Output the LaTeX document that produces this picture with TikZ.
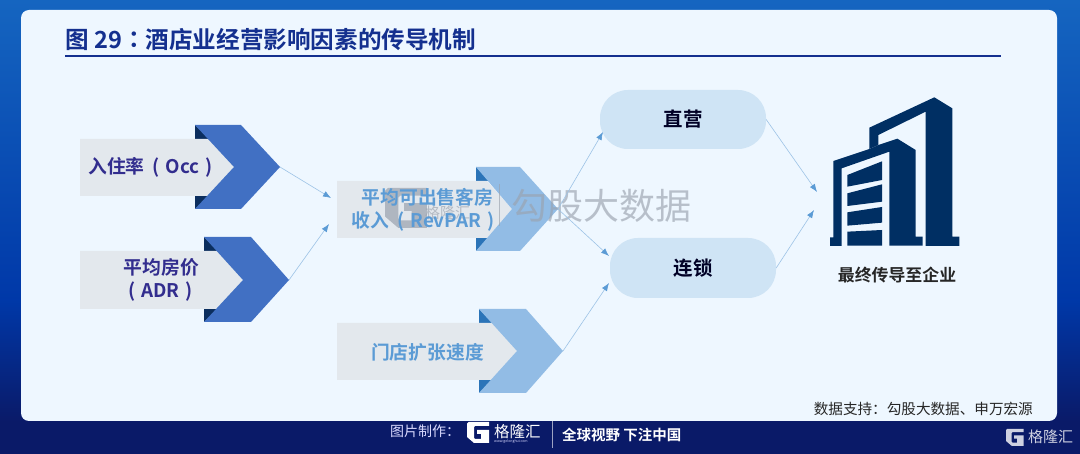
\documentclass[tikz,border=0pt]{standalone}
\usepackage{fontspec}
\setmainfont{Noto Sans CJK SC}
\newfontfamily\cjkb{Noto Sans CJK SC Bold}
\newfontfamily\cjkr{Noto Sans CJK SC}
\newfontfamily\cjktc{Noto Sans CJK TC Bold}
\usetikzlibrary{arrows.meta}
\definecolor{cardbg}{HTML}{EEF7FF}
\definecolor{navy}{HTML}{0A1A68}
\definecolor{bgtop}{HTML}{1565C0}
\definecolor{bgmid}{HTML}{0038A8}
\definecolor{titleblue}{HTML}{14308F}
\definecolor{darkchev}{HTML}{4170C3}
\definecolor{darktri}{HTML}{0B2E5E}
\definecolor{lightchev}{HTML}{92BCE5}
\definecolor{lighttri}{HTML}{2B74B8}
\definecolor{labelbg}{HTML}{E3E8ED}
\definecolor{purpletext}{HTML}{322D8E}
\definecolor{bluetext}{HTML}{5B9BD5}
\definecolor{building}{HTML}{002F63}
\definecolor{pillbg}{HTML}{CFE4F5}
\definecolor{wm}{HTML}{9AA2AE}
\newcommand{\lpar}{\hspace*{8pt}(\hspace*{6pt}}
\newcommand{\rpar}{\hspace*{6pt})\hspace*{2pt}}
\tikzset{
  x=1pt,y=-1pt,
  lbl/.style={inner sep=0pt,align=center,font=\cjkb\fontsize{#1}{23}\selectfont},
  lbl/.default=18,
  txtdark/.style={lbl=18.8,text=purpletext},
  txtlight/.style={lbl=18.8,text=bluetext},
  pill/.style={draw=none,fill=pillbg,rounded corners=28pt,inner sep=0pt,
    font=\cjkb\fontsize{19.5}{19.5}\selectfont,text=black!85!blue},
  link/.style={draw=#1,line width=0.6pt,-{Latex[length=8pt,width=6pt,color=bluetext]}},
  link/.default=bluetext!60,
  glogo/.pic={\fill[pic actions]
     (0,1.5)--(1.5,0)--(22,0)--(22,4)--(8,4)--(7,5)--(7,16)--(8,17)--(14,17)--(14,12)--(10,12)--(10,8)--(22,8)--(22,21)--(7,21)--(0,15)--cycle;},
  wmtxt/.style={inner sep=0pt,anchor=west,text=wm,text opacity=0.65}
}
\begin{document}
\begin{tikzpicture}
\useasboundingbox (0,0) rectangle (1080,454);
% background
\fill[top color=bgtop,bottom color=bgmid] (0,0) rectangle (1080,300);
\fill[top color=bgmid,bottom color=navy] (0,300) rectangle (1080,422);
\fill[navy] (0,421) rectangle (1080,454);
\fill[cardbg,rounded corners=8pt] (21,10) rectangle (1057,421);
% title
\node[anchor=west,lbl=23.6,text=titleblue] (title) at (65,40) {图 29{\cjktc ：}酒店业经营影响因素的传导机制};
\coordinate (ruleL) at (65,56.5);
\coordinate (ruleR) at (1001,56.5);
\draw[titleblue,line width=2pt] (ruleL) -- (ruleR);
% chevrons
\fill[darktri] (195,125) -- (210,139) -- (195,139) -- cycle (195,196) -- (210,196) -- (195,209) -- cycle;
\fill[labelbg] (80,139) -- (209,139) -- (234,167) -- (209,196) -- (80,196) -- cycle;
\fill[darkchev] (195,125) -- (241,125) -- (280,167) -- (241,209) -- (195,209) -- (234,167) -- cycle;
\coordinate (occTip) at (280,167);
\fill[darktri] (204,237) -- (218,251) -- (204,251) -- cycle (204,309) -- (218,309) -- (204,322) -- cycle;
\fill[labelbg] (80,251) -- (218,251) -- (243,280) -- (218,309) -- (80,309) -- cycle;
\fill[darkchev] (204,237) -- (251,237) -- (289,280) -- (251,322) -- (204,322) -- (243,280) -- cycle;
\coordinate (adrTip) at (289,280);
\fill[lighttri] (476,167) -- (490,181) -- (476,181) -- cycle (476,238) -- (490,238) -- (476,251) -- cycle;
\fill[labelbg] (337,181) -- (487,181) -- (512,209) -- (487,238) -- (337,238) -- cycle;
\fill[lightchev] (476,167) -- (520,167) -- (558,209) -- (520,251) -- (476,251) -- (512,209) -- cycle;
\coordinate (revTip) at (558,209);
\fill[lighttri] (479,309) -- (493,323) -- (479,323) -- cycle (479,380) -- (493,380) -- (479,393) -- cycle;
\fill[labelbg] (337,323) -- (493,323) -- (517,351) -- (493,380) -- (337,380) -- cycle;
\fill[lightchev] (479,309) -- (526,309) -- (563,351) -- (526,393) -- (479,393) -- (517,351) -- cycle;
\coordinate (dianTip) at (563,351);
% watermark
\node[wmtxt,font=\cjkr\fontsize{36}{36}\selectfont] (wmtext) at (511,206) {勾股大数据};
\coordinate (wmA) at (499,184);
\coordinate (wmB) at (499,226);
\draw[wm,opacity=0.65,line width=0.6pt] (wmA) -- (wmB);
\pic[wm,scale=1.9,opacity=0.7] at (385,188) {glogo};
\node[wmtxt,font=\cjkr\fontsize{15}{15}\selectfont] (wmname) at (425,213) {格隆汇};
% labels
\node[txtdark] (occ) at (151.5,167) {入住率\lpar Occ\rpar};
\node[txtdark] (adr) at (161.5,279.5) {平均房价\\\hspace*{-8pt}\lpar ADR\rpar};
\node[txtlight] (rev) at (424,209.5) {\hspace*{7pt}平均可出售客房\\收入\lpar RevPAR\rpar};
\node[txtlight] (dian) at (427.5,352) {门店扩张速度};
% targets
\node[pill,minimum width=166pt,minimum height=59pt] (zy) at (683,119.5) {直营};
\node[pill,minimum width=166pt,minimum height=60pt] (ls) at (693,268) {连锁};
% arrows
\coordinate (m1) at (331,198);
\coordinate (m2) at (329,224);
\draw[link] (occTip) -- (m1);
\draw[link] (adrTip) -- (m2);
\coordinate (zyIn) at (603,132);
\coordinate (lsIn) at (609,256);
\coordinate (lsIn2) at (609,283);
\draw[link] (revTip) -- (zyIn);
\draw[link] (revTip) -- (lsIn);
\draw[link] (dianTip) -- (lsIn2);
\coordinate (b1) at (817,192);
\coordinate (b2) at (814,210);
\draw[link] (zy.east) -- (b1);
\draw[link] (ls.east) -- (b2);
% building
\begin{scope}[shift={(800,80)},scale=1/3]
\fill[building] (208,143) -- (403,52) -- (457,85) -- (457,470) -- (478,470) -- (478,498) -- (377,498) -- (377,95) -- (235,165) -- (235,195) -- (208,207) -- cycle;
\fill[building] (100,243) -- (208,207) -- (235,195) -- (292,176) -- (347,210) -- (347,470) -- (368,470) -- (368,497) -- (268,497) -- (268,215) -- (125,265) -- (125,498) -- (90,498) -- (90,472) -- (100,472) -- cycle;
\fill[building] (142,285) -- (246,244) -- (246,300) -- (142,320) -- cycle;
\fill[building] (142,340) -- (246,313) -- (246,365) -- (142,378) -- cycle;
\fill[building] (142,397) -- (246,381) -- (246,428) -- (142,437) -- cycle;
\fill[building] (142,455) -- (246,450) -- (246,497) -- (142,497) -- cycle;
\end{scope}
\node[lbl=16.9,text=black!85] (ent) at (897,275) {最终传导至企业};
% source
\node[anchor=east,inner sep=0pt,text=black!85,font=\cjkr\fontsize{14.6}{14.6}\selectfont] (src) at (1033,409) {数据支持：勾股大数据、申万宏源};
% footer
\node[anchor=west,inner sep=0pt,text=white!85!blue,font=\cjkr\fontsize{14}{14}\selectfont] (fmake) at (390,431) {图片制作：};
\pic[white] at (467,422) {glogo};
\node[anchor=west,inner sep=0pt,text=white,font=\cjkr\fontsize{15.5}{15.5}\selectfont] (fname) at (494,432) {格隆汇};
\node[anchor=west,inner sep=0pt,text=white!85!blue,font=\cjkr\fontsize{3.5}{3.5}\selectfont] (furl) at (494,442) {www.gelonghui.com};
\coordinate (fA) at (552,421);
\coordinate (fB) at (552,448);
\draw[white!60!navy,line width=0.7pt] (fA) -- (fB);
\node[anchor=west,inner sep=0pt,text=white,font=\cjkb\fontsize{14.5}{14.5}\selectfont] (fslogan) at (562,435) {全球视野 下注中国};
\pic[white!80!navy,scale=0.8] at (1006,429) {glogo};
\node[anchor=west,inner sep=0pt,text=white!80!navy,font=\cjkr\fontsize{15}{15}\selectfont] (fname2) at (1028,437) {格隆汇};
\end{tikzpicture}
\end{document}
